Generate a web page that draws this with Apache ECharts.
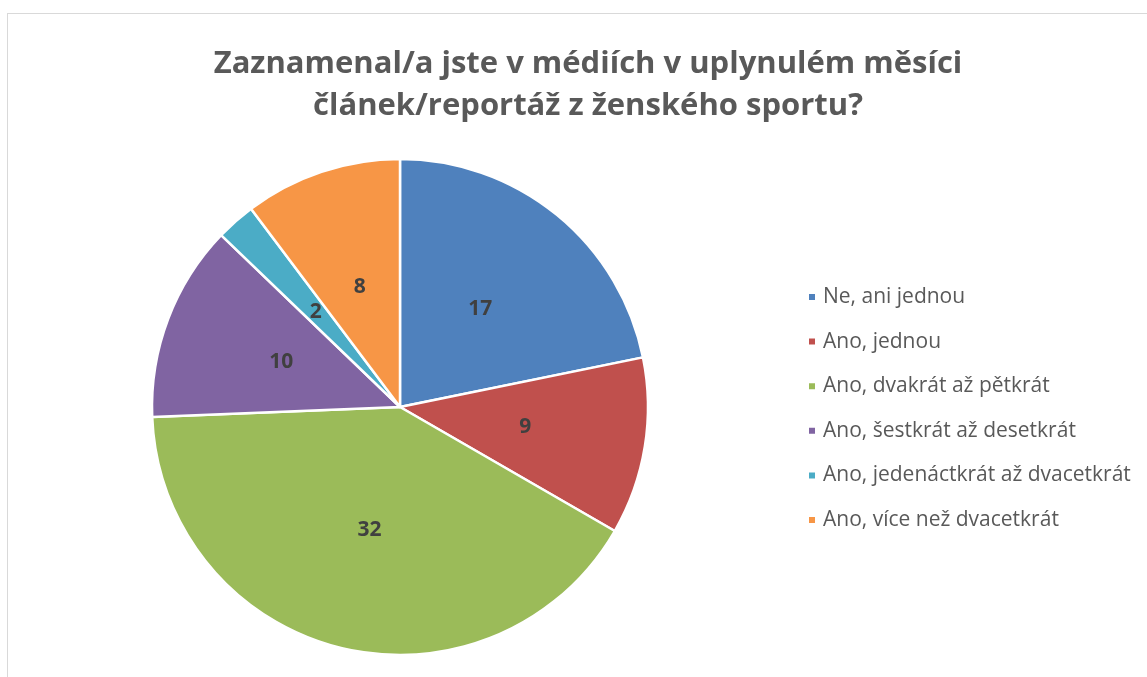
<!DOCTYPE html>
<html lang="cs">
<head>
    <meta charset="UTF-8">
    <title>Ženský sport v médiích</title>
    <style>
        html,body{
            margin: 0;
            height: 100%;
            background: #fff;
        }
        #frame{
            position: absolute;
            left: 7px;
            top: 13px;
            width: 1200px;
            height: 700px;
            border-left: 1px solid #d9d9d9;
            border-top: 1px solid #d9d9d9;
        }
        #main{
            position: absolute;
            left: 0;
            top: 0;
            width: 1147px;
            height: 677px;
        }
    </style>
</head>
<body>
<div id="frame"></div>
<div id="main"></div>
<script src="https://cdn.jsdelivr.net/npm/echarts@6/dist/echarts.min.js"></script>
<script>
    var categories = [
        'Ne, ani jednou',
        'Ano, jednou',
        'Ano, dvakrát až pětkrát',
        'Ano, šestkrát až desetkrát',
        'Ano, jedenáctkrát až dvacetkrát',
        'Ano, více než dvacetkrát'
    ];
    var counts = [17, 9, 32, 10, 2, 8];
    var colors = ['#4F81BD', '#C0504D', '#9BBB59', '#8064A2', '#4BACC6', '#F79646'];

    var chart = echarts.init(document.getElementById('main'));

    var pieData = categories.map(function (name, i) {
        return {name: name, value: counts[i], itemStyle: {color: colors[i]}};
    });

    var option = {
        backgroundColor: 'transparent',
        animation: false,
        title: {
            text: 'Zaznamenal/a jste v médiích v uplynulém měsíci\nčlánek/reportáž z ženského sportu?',
            left: 583,
            top: 38,
            textAlign: 'center',
            textStyle: {
                fontFamily: 'Open Sans',
                fontWeight: 'bold',
                fontSize: 31,
                lineHeight: 42,
                color: '#595959'
            }
        },
        legend: {
            orient: 'vertical',
            left: 802,
            top: 281,
            itemWidth: 8,
            itemHeight: 8,
            itemGap: 22.6,
            icon: 'rect',
            data: categories,
            textStyle: {
                fontFamily: 'Open Sans',
                fontSize: 21,
                lineHeight: 22,
                color: '#595959',
                padding: [0, 0, 0, 2]
            }
        },
        series: [{
            type: 'pie',
            center: [400, 407],
            radius: 248,
            startAngle: 90,
            clockwise: true,
            data: pieData,
            itemStyle: {
                borderColor: '#fff',
                borderWidth: 2.5
            },
            label: {
                show: true,
                position: 'inside',
                formatter: '{c}',
                fontFamily: 'Open Sans',
                fontWeight: 'bold',
                fontSize: 21,
                color: '#404040'
            },
            labelLine: {show: false},
            emphasis: {disabled: true}
        }]
    };

    chart.setOption(option);
</script>
</body>
</html>
